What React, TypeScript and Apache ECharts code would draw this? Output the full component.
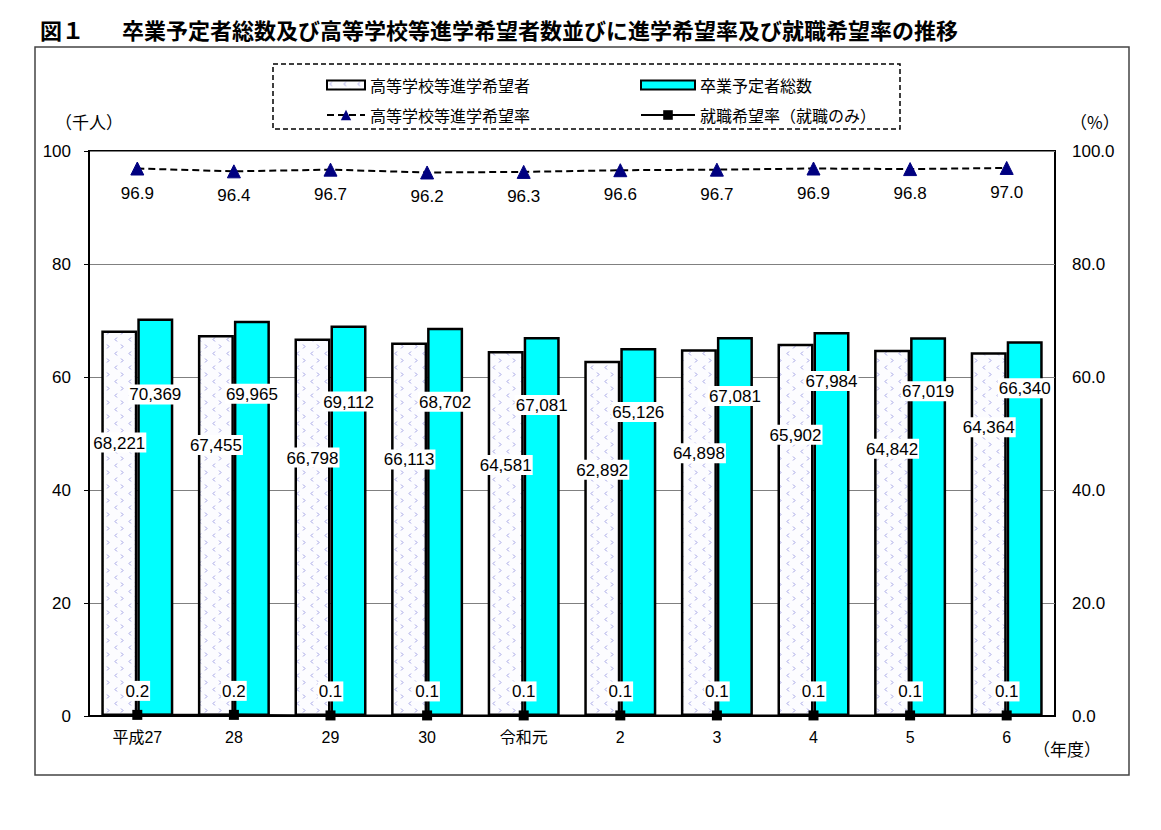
import React, { useEffect, useRef } from "react";
import * as echarts from "echarts";

const categories = ["平成27", "28", "29", "30", "令和元", "2", "3", "4", "5", "6"];
const hsApplicants = [68221, 67455, 66798, 66113, 64581, 62892, 64898, 65902, 64842, 64364];
const totalGrads = [70369, 69965, 69112, 68702, 67081, 65126, 67081, 67984, 67019, 66340];
const hsRate = [96.9, 96.4, 96.7, 96.2, 96.3, 96.6, 96.7, 96.9, 96.8, 97.0];
const jobRate = [0.2, 0.2, 0.1, 0.1, 0.1, 0.1, 0.1, 0.1, 0.1, 0.1];
const yTicksLeft = [0, 20, 40, 60, 80, 100];

// label nudges (layout only, px below bar top)
const hsLabelDy = [112, 110, 119, 117, 114, 109, 104, 91, 99, 75];
const totLabelDy = [76, 73, 76, 74, 68, 64, 59, 49, 54, 47];

const FONT = 'Arial, "Liberation Sans", "Noto Sans CJK JP", sans-serif';
const JFONT = '"Noto Sans CJK JP", "Liberation Sans", sans-serif';

function makePattern(): string {
  const c = document.createElement("canvas");
  c.width = 14;
  c.height = 14;
  const ctx = c.getContext("2d")!;
  ctx.fillStyle = "#fcfcff";
  ctx.fillRect(0, 0, 14, 14);
  ctx.strokeStyle = "#a0a0e4";
  ctx.lineWidth = 1;
  ctx.beginPath();
  ctx.moveTo(5, 1.5);
  ctx.lineTo(3, 3.5);
  ctx.lineTo(5, 5.5);
  ctx.stroke();
  ctx.beginPath();
  ctx.moveTo(9, 8.5);
  ctx.lineTo(11, 10.5);
  ctx.lineTo(9, 12.5);
  ctx.stroke();
  return c.toDataURL();
}

export default function App() {
  const ref = useRef<HTMLDivElement>(null);
  useEffect(() => {
    if (!ref.current) return;
    const chart = echarts.init(ref.current, undefined, { renderer: "svg" });
    const pattern = { image: makePattern(), repeat: "repeat" } as any;
    const fmt = (n: number) => n.toLocaleString("en-US");
    const barLabelBase = {
      show: true,
      position: "insideTop" as const,
      distance: 0,
      color: "#000",
      fontSize: 17,
      fontFamily: FONT,
      backgroundColor: "#fff",
      padding: [2, 1, 1, 1],
    };
    const legendText = { fontSize: 16, fontFamily: JFONT, color: "#000" };
    const option: any = {
      animation: false,
      backgroundColor: "#fff",
      textStyle: { fontFamily: FONT },
      grid: {
        left: 89,
        right: 106,
        top: 151,
        bottom: 114,
        show: true,
        borderColor: "#000",
        borderWidth: 2,
        backgroundColor: "#fff",
      },
      legend: [
        {
          left: 321,
          top: 72,
          itemWidth: 38,
          itemHeight: 9,
          icon: "rect",
          textStyle: legendText,
          data: ["高等学校等進学希望者"],
        },
        {
          left: 321,
          top: 102,
          itemWidth: 38,
          itemHeight: 13,
          textStyle: legendText,
          data: ["高等学校等進学希望率"],
        },
        {
          left: 635,
          top: 72,
          itemWidth: 54,
          itemHeight: 9,
          icon: "rect",
          textStyle: legendText,
          data: ["卒業予定者総数"],
        },
        {
          left: 635,
          top: 102,
          itemWidth: 54,
          itemHeight: 12,
          textStyle: legendText,
          data: ["就職希望率（就職のみ）"],
        },
      ],
      xAxis: {
        type: "category",
        data: categories,
        axisLine: { lineStyle: { color: "#000", width: 2 } },
        axisTick: { show: false },
        axisLabel: { fontSize: 16, color: "#000", margin: 13, fontFamily: FONT },
      },
      yAxis: [
        {
          type: "value",
          min: yTicksLeft[0],
          max: yTicksLeft[yTicksLeft.length - 1],
          interval: 20,
          axisLine: { show: true, lineStyle: { color: "#000", width: 2 } },
          axisTick: { show: true, length: 5, lineStyle: { color: "#000" } },
          splitLine: { lineStyle: { color: "#808080", width: 1 } },
          axisLabel: { fontSize: 17, color: "#000", margin: 18, fontFamily: FONT },
        },
        {
          type: "value",
          min: 0,
          max: 100,
          interval: 20,
          axisLine: { show: false },
          axisTick: { show: false },
          splitLine: { show: false },
          axisLabel: {
            fontSize: 17,
            color: "#000",
            margin: 17,
            fontFamily: FONT,
            formatter: (v: number) => v.toFixed(1),
          },
        },
      ],
      series: [
        {
          name: "高等学校等進学希望者",
          type: "bar",
          barWidth: 36,
          barGap: "0%",
          itemStyle: { color: pattern, borderColor: "#000", borderWidth: 2.5 },
          label: { ...barLabelBase, formatter: (p: any) => fmt(p.data.raw) },
          data: hsApplicants.map((v, i) => ({
            value: v / 1000,
            raw: v,
            label: { offset: [0, hsLabelDy[i] - 10] },
          })),
        },
        {
          name: "卒業予定者総数",
          type: "bar",
          barWidth: 36,
          barGap: "0%",
          itemStyle: { color: "#00ffff", borderColor: "#000", borderWidth: 2.5 },
          label: { ...barLabelBase, formatter: (p: any) => fmt(p.data.raw) },
          data: totalGrads.map((v, i) => ({
            value: v / 1000,
            raw: v,
            label: { offset: [0, totLabelDy[i] - 10] },
          })),
        },
        {
          name: "高等学校等進学希望率",
          type: "line",
          yAxisIndex: 1,
          data: hsRate,
          symbol: "triangle",
          symbolSize: 13,
          itemStyle: { color: "#000080", borderColor: "#000080" },
          lineStyle: { color: "#000", width: 2, type: [7, 4] },
          label: {
            show: true,
            position: "bottom",
            distance: 9,
            fontSize: 17,
            color: "#000",
            fontFamily: FONT,
            formatter: (p: any) => Number(p.value).toFixed(1),
          },
          z: 5,
        },
        {
          name: "就職希望率（就職のみ）",
          type: "line",
          yAxisIndex: 1,
          data: jobRate,
          symbol: "rect",
          symbolSize: 10,
          itemStyle: { color: "#000" },
          lineStyle: { color: "#000", width: 2 },
          label: {
            show: true,
            position: "top",
            distance: 9,
            fontSize: 17,
            color: "#000",
            fontFamily: FONT,
            backgroundColor: "#fff",
            padding: [2, 1, 1, 1],
            formatter: (p: any) => Number(p.value).toFixed(1),
          },
          z: 5,
        },
      ],
      graphic: [
        {
          type: "rect",
          shape: { x: 35, y: 47, width: 1094, height: 728 },
          style: { fill: "none", stroke: "#444", lineWidth: 1.5 },
          z: -10,
          silent: true,
        },
        {
          type: "rect",
          shape: { x: 273, y: 64, width: 627, height: 65 },
          style: { fill: "none", stroke: "#000", lineWidth: 1.5, lineDash: [5, 3] },
          silent: true,
        },
        {
          type: "text",
          x: 40,
          y: 18,
          style: { text: "図１", fontSize: 22, fontWeight: "bold", fontFamily: JFONT, fill: "#000" },
        },
        {
          type: "text",
          x: 122,
          y: 18,
          style: {
            text: "卒業予定者総数及び高等学校等進学希望者数並びに進学希望率及び就職希望率の推移",
            fontSize: 22,
            fontWeight: "bold",
            fontFamily: JFONT,
            fill: "#000",
          },
        },
        {
          type: "text",
          x: 55,
          y: 113,
          style: { text: "（千人）", fontSize: 17, fontFamily: JFONT, fill: "#000" },
        },
        {
          type: "text",
          x: 1070,
          y: 113,
          style: { text: "（%）", fontSize: 17, fontFamily: JFONT, fill: "#000" },
        },
        {
          type: "text",
          x: 1033,
          y: 740,
          style: { text: "（年度）", fontSize: 17, fontFamily: JFONT, fill: "#000" },
        },
      ],
    };
    chart.setOption(option);
    return () => chart.dispose();
  }, []);
  return (
    <div
      ref={ref}
      style={{ position: "absolute", left: 0, top: 0, width: 1161, height: 830 }}
    />
  );
}
